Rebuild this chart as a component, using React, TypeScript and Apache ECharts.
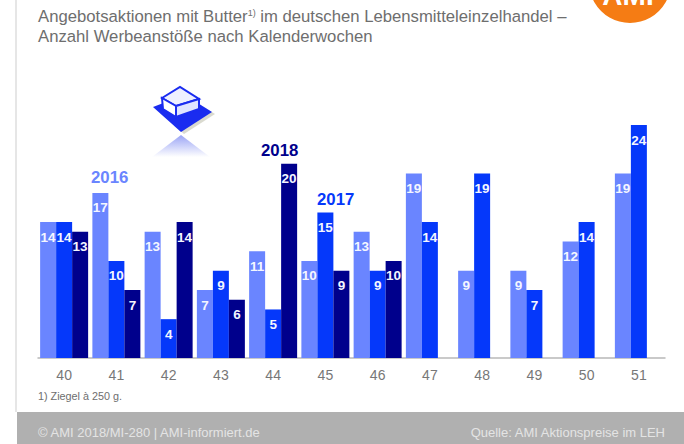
import React, { useEffect, useRef } from "react";
import * as echarts from "echarts";

const weeks = ["40", "41", "42", "43", "44", "45", "46", "47", "48", "49", "50", "51"];
const values2016 = [14, 17, 13, 7, 11, 10, 13, 19, 9, 9, 12, 19];
const values2017 = [14, 10, 4, 9, 5, 15, 9, 14, 19, 7, 14, 24];
const values2018 = [13, 7, 14, 6, 20, 9, 10, null, null, null, null, null];
const seriesNames = ["2016", "2017", "2018"];
const seriesColors = ["#6a85ff", "#0538fa", "#00008c"];
const FONT = '"Liberation Sans", Arial, sans-serif';

export default function App() {
  const ref = useRef<HTMLDivElement>(null);
  useEffect(() => {
    const chart = echarts.init(ref.current!, undefined, { renderer: "svg" });
    const mkSeries = (name: string, data: (number | null)[], color: string) => ({
      name,
      type: "bar",
      data,
      barWidth: 16,
      barGap: "0%",
      itemStyle: { color },
      label: {
        show: true,
        position: "insideTop",
        distance: 8,
        color: "#f4f6ff",
        fontFamily: FONT,
        fontWeight: "bold",
        fontSize: 13.5,
      },
    });
    const txt = (x: number, y: number, text: string, fontSize: number, fill: string, extra: any = {}) => ({
      type: "text",
      x,
      y,
      silent: true,
      style: { text, fontSize, fill, fontFamily: FONT, ...extra },
    });
    const blue = "#1a2cf0";
    chart.setOption({
      animation: false,
      backgroundColor: "#ffffff",
      grid: { left: 38, top: 125, width: 627, height: 233 },
      xAxis: {
        type: "category",
        data: weeks,
        axisTick: { show: false },
        axisLine: { lineStyle: { color: "#b8b8b8", width: 1.5 } },
        axisLabel: { color: "#777777", fontSize: 14, fontFamily: FONT, margin: 10 },
      },
      yAxis: { type: "value", min: 0, max: 24, show: false },
      series: [
        mkSeries(seriesNames[0], values2016, seriesColors[0]),
        mkSeries(seriesNames[1], values2017, seriesColors[1]),
        mkSeries(seriesNames[2], values2018, seriesColors[2]),
      ],
      graphic: [
        { type: "rect", silent: true, shape: { x: 15, y: 0, width: 2, height: 412 }, style: { fill: "#e6e6e6" } },
        { type: "rect", silent: true, shape: { x: 17, y: 412, width: 667, height: 32 }, style: { fill: "#b0b0b0" } },
        { type: "circle", silent: true, shape: { cx: 630, cy: -18, r: 41 }, style: { fill: "#f57c14" } },
        txt(628, -5, "AMI", 28, "#ffffff", { fontWeight: "bold", align: "center", verticalAlign: "middle" }),
        txt(38, 8, "Angebotsaktionen mit Butter{s|1)} im deutschen Lebensmitteleinzelhandel –", 16.7, "#6e6e6e", {
          rich: { s: { fontSize: 9, fill: "#6e6e6e", fontFamily: FONT, verticalAlign: "top", lineHeight: 16 } },
        }),
        txt(38, 28, "Anzahl Werbeanstöße nach Kalenderwochen", 16.7, "#6e6e6e"),
        txt(91, 169, "2016", 16.8, seriesColors[0], { fontWeight: "bold" }),
        txt(261, 142, "2018", 16.8, seriesColors[2], { fontWeight: "bold" }),
        txt(317, 191, "2017", 16.8, seriesColors[1], { fontWeight: "bold" }),
        txt(38, 390, "1) Ziegel à 250 g.", 10.8, "#6e6e6e"),
        txt(38, 426, "© AMI 2018/MI-280 | AMI-informiert.de", 13, "#e4e4e4"),
        txt(665, 426, "Quelle: AMI Aktionspreise im LEH", 13, "#e4e4e4", { align: "right" }),
        // butter icon
        { type: "polygon", silent: true, shape: { points: [[153, 107], [166, 102], [196, 102], [212, 112], [181, 132]] }, style: { fill: "#b5b5a0", opacity: 0.5 }, x: 3, y: 2 },
        { type: "polygon", silent: true, shape: { points: [[153, 107], [166, 102], [196, 102], [212, 112], [181, 132]] }, style: { fill: blue } },
        { type: "polygon", silent: true, shape: { points: [[162, 98], [180, 87], [199, 99], [176, 106]] }, style: { fill: "#eef0ff", stroke: blue, lineWidth: 2 } },
        { type: "polygon", silent: true, shape: { points: [[162, 98], [176, 106], [176, 117], [163, 109]] }, style: { fill: "#ffffff", stroke: blue, lineWidth: 2 } },
        { type: "polygon", silent: true, shape: { points: [[199, 99], [176, 106], [176, 117], [199, 109]] }, style: { fill: "#dfe4ff", stroke: blue, lineWidth: 2 } },
        {
          type: "polygon",
          silent: true,
          shape: { points: [[181, 135], [152, 157], [210, 157]] },
          style: {
            fill: {
              type: "linear",
              x: 0,
              y: 0,
              x2: 0,
              y2: 1,
              colorStops: [
                { offset: 0, color: "#9aa4f5" },
                { offset: 1, color: "#ffffff" },
              ],
            },
          },
        },
      ],
    });
    return () => chart.dispose();
  }, []);
  return <div ref={ref} style={{ position: "fixed", left: 0, top: 0, width: 684, height: 444 }} />;
}
